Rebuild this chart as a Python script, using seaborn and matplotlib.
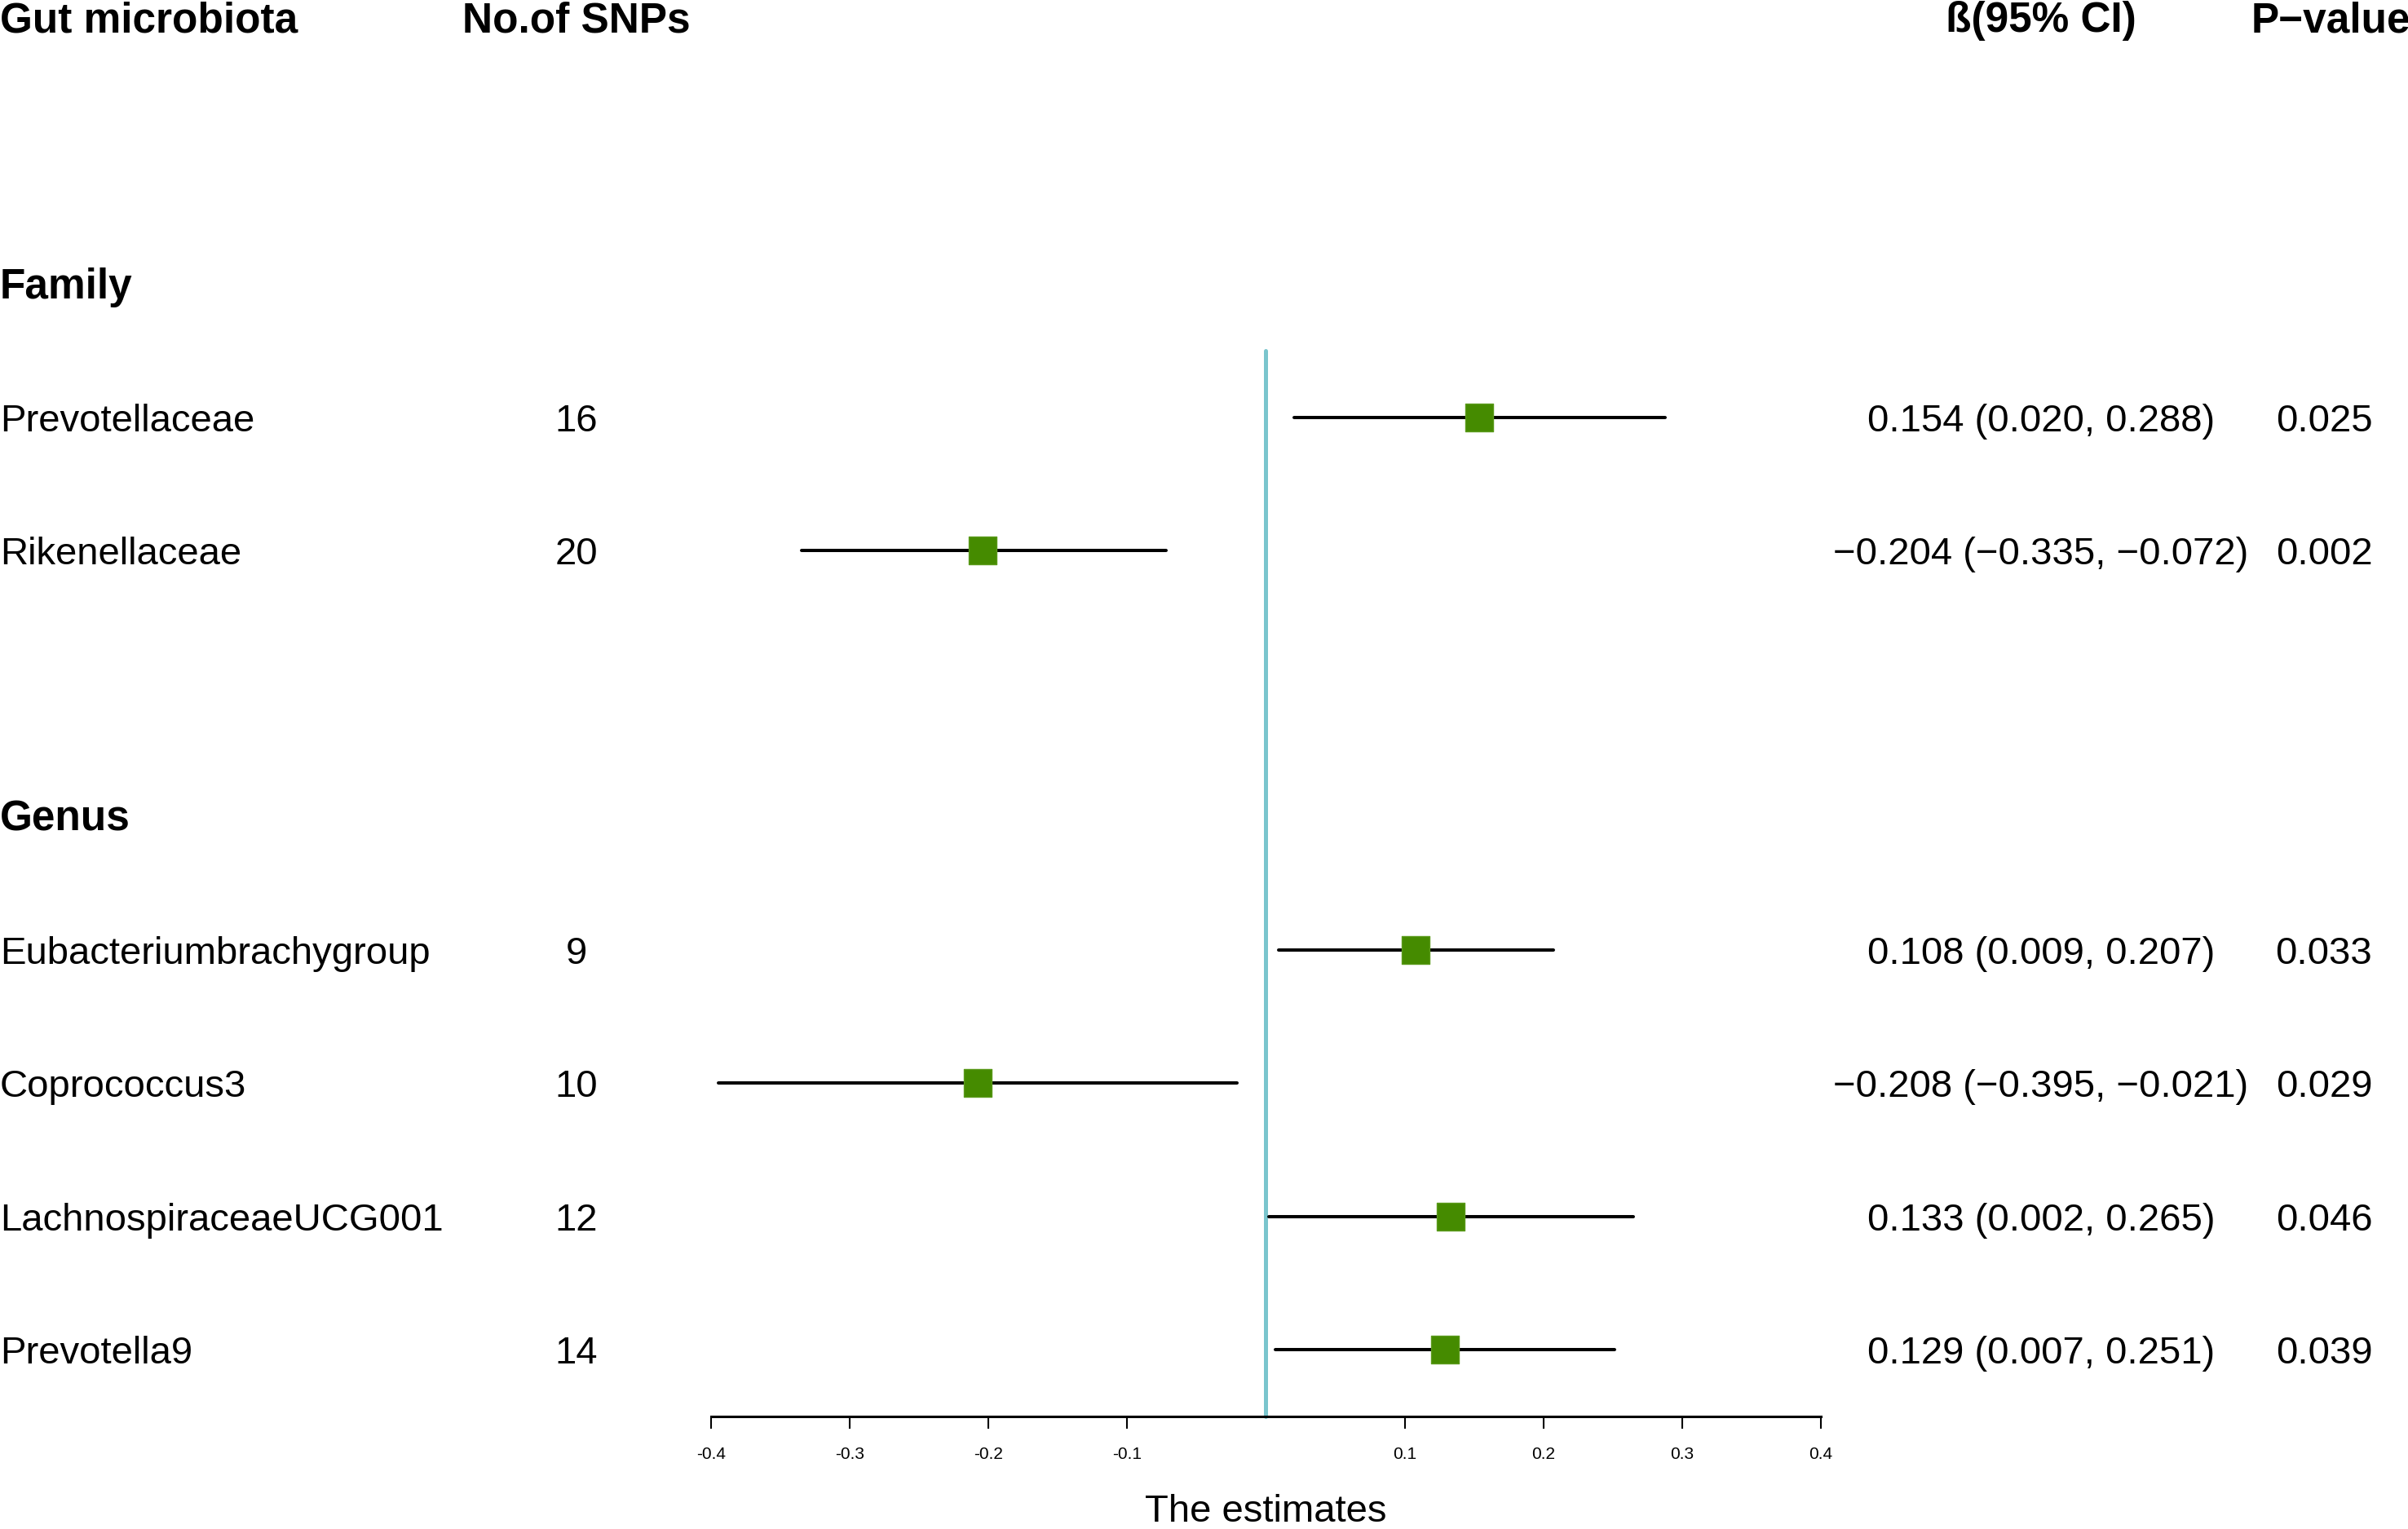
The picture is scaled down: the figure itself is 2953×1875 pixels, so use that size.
import matplotlib
matplotlib.use("Agg")
import matplotlib.pyplot as plt
import matplotlib.transforms as mtransforms
import seaborn as sns
import pandas as pd

# data
family_taxa = ["Prevotellaceae", "Rikenellaceae"]
genus_taxa = ["Eubacteriumbrachygroup", "Coprococcus3", "LachnospiraceaeUCG001", "Prevotella9"]
n_snps = [16, 20, 9, 10, 12, 14]
beta = [0.154, -0.204, 0.108, -0.208, 0.133, 0.129]
ci_low = [0.020, -0.335, 0.009, -0.395, 0.002, 0.007]
ci_high = [0.288, -0.072, 0.207, -0.021, 0.265, 0.251]
p_values = ["0.025", "0.002", "0.033", "0.029", "0.046", "0.039"]
x_ticks = [-0.4, -0.3, -0.2, -0.1, 0.1, 0.2, 0.3, 0.4]

W, H = 2953, 1875
sns.set_style("white")
plt.rcParams["font.family"] = ["Liberation Sans", "DejaVu Sans"]
plt.rcParams["axes.unicode_minus"] = False
plt.rcParams["text.color"] = "black"
plt.rcParams["xtick.color"] = "black"
plt.rcParams["axes.edgecolor"] = "black"

# row layout: header at 0, group label, then taxa, blank between groups
taxa = family_taxa + genus_taxa
rows = [3 + i for i in range(len(family_taxa))] + [7 + i for i in range(len(genus_taxa))]
df = pd.DataFrame({"taxon": taxa, "snps": n_snps, "beta": beta,
                   "lo": ci_low, "hi": ci_high, "p": p_values, "row": rows})

fig = plt.figure(figsize=(W / 100, H / 100), dpi=100)
ax = fig.add_axes([0, 0, 1, 1])

# map -0.4 -> 872 px, 0.4 -> 2233 px; row i -> 22 + 163.3*i px from top
u = (2233 - 872) / 0.8
rh = 163.3
ax.set_xlim(-0.4 - 872 / u, 0.4 + (W - 2233) / u)
ax.set_ylim((H - 22) / rh, -22 / rh)

# zero line
ax.plot([0, 0], [2.5, 10.5], color="#7AC5CD", lw=3.6, solid_capstyle="round", zorder=1)

# CIs and point estimates
ax.hlines(df["row"], df["lo"], df["hi"], color="black", lw=2.9, capstyle="round", zorder=2)
sns.scatterplot(data=df, x="beta", y="row", marker="s", s=25 ** 2, color="#458B00",
                edgecolor="#5a9a1a", linewidth=1, ax=ax, zorder=3, legend=False)

# x axis
for s in ["top", "left", "right"]:
    ax.spines[s].set_visible(False)
ax.spines["bottom"].set_position(("data", 10.5))
ax.spines["bottom"].set_bounds(-0.4, 0.4)
ax.spines["bottom"].set_linewidth(2.2)
ax.set_xticks(x_ticks)
ax.set_xticklabels([f"{t:.1f}" for t in x_ticks])
ax.tick_params(axis="x", direction="out", length=11, width=1.5, pad=16, labelsize=15,
               bottom=True, colors="black")
ax.set_yticks([])
ax.set_xlabel("")
ax.set_ylabel("")

fig.text(1552 / W, 1 - 1866 / H, "The estimates", ha="center", va="baseline", fontsize=34)

# table text
tr = mtransforms.blended_transform_factory(fig.transFigure, ax.transData)
off = 17 / rh
fs = 34
hdr = dict(fontsize=37, fontweight="bold", va="baseline", transform=tr)
ax.text(0, off, "Gut microbiota", ha="left", **hdr)
ax.text(707 / W, off, "No.of SNPs", ha="center", **hdr)
ax.text(2503 / W, off, "ß(95% CI)", ha="center", **hdr)
ax.text(2761 / W, off, "P\u2212value", ha="left", **hdr)
ax.text(0, 2 + off, "Family", ha="left", **hdr)
ax.text(0, 6 + off, "Genus", ha="left", **hdr)

for _, r in df.iterrows():
    y = r["row"] + off
    ax.text(0, y, r["taxon"], ha="left", va="baseline", fontsize=fs, transform=tr)
    ax.text(707 / W, y, str(r["snps"]), ha="center", va="baseline", fontsize=fs, transform=tr)
    est = f"{r['beta']:.3f} ({r['lo']:.3f}, {r['hi']:.3f})".replace("-", "\u2212")
    ax.text(2503 / W, y, est, ha="center", va="baseline", fontsize=fs, transform=tr)
    ax.text(2850 / W, y, r["p"], ha="center", va="baseline", fontsize=fs, transform=tr)

fig.savefig("out.png", dpi=100)
